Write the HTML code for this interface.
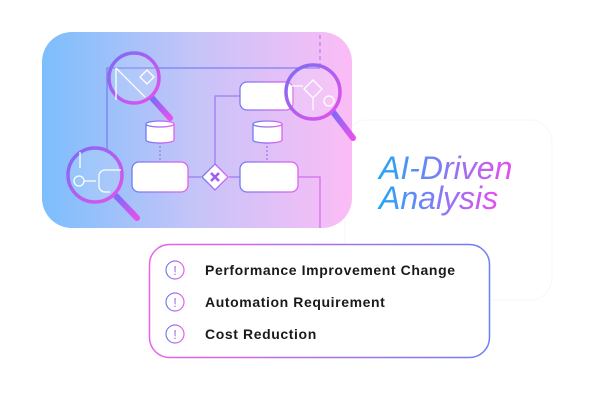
<!DOCTYPE html>
<html><head><style>body{margin:0;background:#fff;}svg{display:block}</style></head><body>
<svg width="600" height="400" viewBox="0 0 600 400" xmlns="http://www.w3.org/2000/svg">
<defs>
<linearGradient id="bg" x1="0" x2="1" y1="0" y2="0"><stop offset="0" stop-color="#7cbefc"/><stop offset="0.5" stop-color="#c6c4f8"/><stop offset="1" stop-color="#fcbcf6"/></linearGradient>
<linearGradient id="ln" x1="0" x2="1"><stop offset="0" stop-color="#6f7cf5"/><stop offset="1" stop-color="#e55ff0"/></linearGradient>
<linearGradient id="bd" x1="0" x2="1"><stop offset="0" stop-color="#f060e8"/><stop offset="1" stop-color="#6d7ef6"/></linearGradient>
<linearGradient id="tx" x1="0" x2="1"><stop offset="0" stop-color="#1fa8f8"/><stop offset="1" stop-color="#e84ef0"/></linearGradient>
<linearGradient id="mg" x1="0" x2="1" y1="0" y2="1"><stop offset="0" stop-color="#7a6cf6"/><stop offset="1" stop-color="#e750ee"/></linearGradient>
</defs>
<rect x="345" y="120" width="207" height="180" rx="22" fill="#fff" stroke="#f7f7fa" stroke-width="1"/>
<rect x="42" y="32" width="310" height="196" rx="30" fill="url(#bg)"/>
<g fill="none" stroke="#7b7ff4" stroke-width="1.3">
<path d="M107 150 V68 H320"/>
<path d="M320 35 V66" stroke-dasharray="4 3" stroke="#d078ee"/>
<path d="M298 177 H320 V228" stroke="#d070ee"/>
<path d="M188 177 H201 M229 177 H240" stroke="#a07af2"/>
<path d="M215 164 V96 H240" stroke="#a07af2"/>
<path d="M160 142 V160 M267 142 V160" stroke-dasharray="2 2" stroke="#a07af2"/>
</g>
<g fill="#fff" stroke="url(#ln)" stroke-width="1.3">
<rect x="132" y="162" width="56" height="30" rx="7"/>
<rect x="240" y="162" width="58" height="30" rx="7"/>
<rect x="240" y="82" width="53" height="28" rx="7"/>
<path d="M146 124 V140 A14 3 0 0 0 174 140 V124 A14 3 0 0 0 146 124 A14 3 0 0 0 174 124"/>
<path d="M253 124 V140 A14.5 3 0 0 0 282 140 V124 A14.5 3 0 0 0 253 124 A14.5 3 0 0 0 282 124"/>
<path d="M215 164 L228 177 L215 190 L202 177 Z"/>
</g>
<path d="M211 173 L219 181 M219 173 L211 181" stroke="#a05cf0" stroke-width="2.5"/>
<g stroke-linecap="round">
<line x1="152" y1="98" x2="170" y2="118" stroke="url(#mg)" stroke-width="6"/>
<line x1="333" y1="112" x2="353" y2="138" stroke="url(#mg)" stroke-width="6"/>
<line x1="116" y1="196" x2="137" y2="218" stroke="url(#mg)" stroke-width="6"/>
</g>
<g fill="rgba(255,255,255,0.12)" stroke="url(#mg)" stroke-width="3.5">
<circle cx="134" cy="78" r="25"/>
<circle cx="313" cy="92" r="27"/>
<circle cx="95" cy="175" r="27"/>
</g>
<g fill="none" stroke="#fff" stroke-width="1.3">
<path d="M116 68 L145 97 M116 68 V100"/>
<path d="M147 70 L154 77 L147 84 L140 77 Z"/>
<path d="M313 80 L322 89 L313 98 L304 89 Z M313 98 V110 M290 86 H303"/>
<circle cx="329" cy="101" r="5"/>
<circle cx="79" cy="181" r="5"/>
<path d="M84 181 H96 M110 192 H105 A6 6 0 0 1 99 186 V176 A6 6 0 0 1 105 170 H121 M80 168 V152"/>
</g>
<text x="379" y="179" font-family="Liberation Sans, sans-serif" font-style="italic" font-size="32" fill="url(#tx)">AI-Driven</text>
<text x="379" y="209" font-family="Liberation Sans, sans-serif" font-style="italic" font-size="32" fill="url(#tx)">Analysis</text>
<rect x="149.5" y="244.5" width="340" height="113" rx="20" fill="#fff" stroke="url(#bd)" stroke-width="1.5"/>
<g fill="none" stroke="url(#ln)" stroke-width="1.2">
<circle cx="175" cy="270" r="9"/><circle cx="175" cy="302" r="9"/><circle cx="175" cy="334" r="9"/>
</g>
<g font-family="Liberation Sans, sans-serif" font-size="13" fill="#a06ef2" text-anchor="middle">
<text x="175" y="275">!</text><text x="175" y="307">!</text><text x="175" y="339">!</text>
</g>
<g font-family="Liberation Sans, sans-serif" font-size="14" font-weight="bold" fill="#1a1a1a" letter-spacing="0.6">
<text x="205" y="275">Performance Improvement Change</text>
<text x="205" y="307">Automation Requirement</text>
<text x="205" y="339">Cost Reduction</text>
</g>
</svg>
</body></html>
